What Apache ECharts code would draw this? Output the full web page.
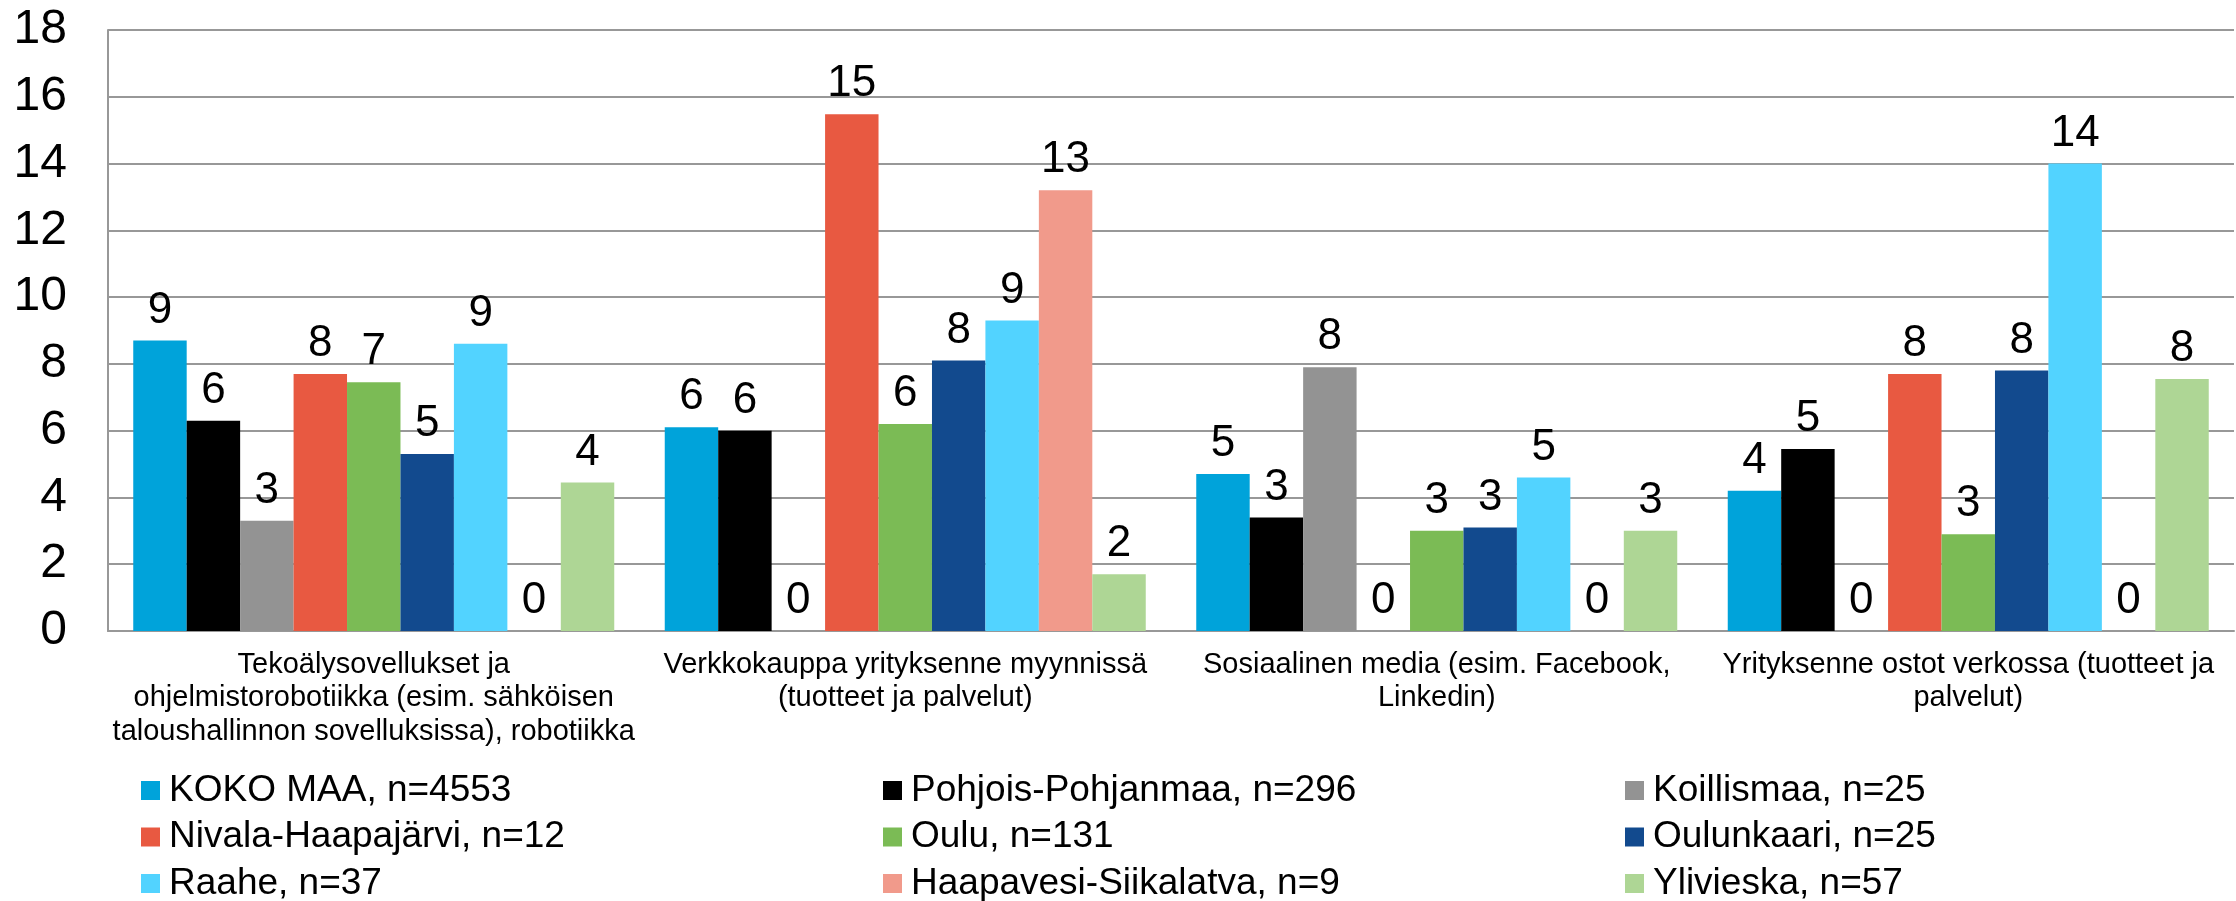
<!DOCTYPE html>
<html>
<head>
<meta charset="utf-8">
<script src="https://cdn.jsdelivr.net/npm/echarts@6/dist/echarts.min.js"></script>
<style>
  html, body { margin: 0; padding: 0; background: #fff; }
  #chart { width: 2236px; height: 901px; }
</style>
</head>
<body>
<div id="chart"></div>
<script>
// categories (x axis)
const categories = [
  "Tekoälysovellukset ja\nohjelmistorobotiikka (esim. sähköisen\ntaloushallinnon sovelluksissa), robotiikka",
  "Verkkokauppa yrityksenne myynnissä\n(tuotteet ja palvelut)",
  "Sosiaalinen media (esim. Facebook,\nLinkedin)",
  "Yrityksenne ostot verkossa (tuotteet ja\npalvelut)"
];

// one array per region, values per category
const kokoMaa = [8.7, 6.1, 4.7, 4.2];
const pohjoisPohjanmaa = [6.3, 6.0, 3.4, 5.45];
const koillismaa = [3.3, 0, 7.9, 0];
const nivalaHaapajarvi = [7.7, 15.48, 0, 7.7];
const oulu = [7.45, 6.2, 3.0, 2.9];
const oulunkaari = [5.3, 8.1, 3.1, 7.8];
const raahe = [8.6, 9.3, 4.6, 14.0];
const haapavesiSiikalatva = [0, 13.2, 0, 0];
const ylivieska = [4.45, 1.7, 3.0, 7.55];

const seriesNames = [
  "KOKO MAA, n=4553", "Pohjois-Pohjanmaa, n=296", "Koillismaa, n=25",
  "Nivala-Haapajärvi, n=12", "Oulu, n=131", "Oulunkaari, n=25",
  "Raahe, n=37", "Haapavesi-Siikalatva, n=9", "Ylivieska, n=57"
];
const seriesData = [kokoMaa, pohjoisPohjanmaa, koillismaa, nivalaHaapajarvi, oulu,
  oulunkaari, raahe, haapavesiSiikalatva, ylivieska];
const colors = ["#00A3DA", "#000000", "#939393", "#E85941", "#7BBB55",
  "#124A8E", "#52D3FF", "#F19A8B", "#AED695"];

// y axis ticks
const yMin = 0, yMax = 18, yStep = 2;

const font = "'Liberation Sans', Arial, sans-serif";
const gridColor = "#989898";

const chart = echarts.init(document.getElementById("chart"));

// legend is laid out as three columns, one legend per column
const legendCol = (left, names) => ({
  orient: "vertical",
  left: left,
  top: 772,
  height: 200,
  padding: 0,
  itemWidth: 19,
  itemHeight: 19,
  itemGap: 9.5,
  icon: "rect",
  data: names,
  selectedMode: false,
  textStyle: { fontSize: 37, fontFamily: font, color: "#000", padding: [0, 0, 0, 4], lineHeight: 37 }
});

const option = {
  color: colors,
  animation: false,
  grid: { left: 108, right: 2, top: 30, bottom: 270 },
  legend: [
    legendCol(141, [seriesNames[0], seriesNames[3], seriesNames[6]]),
    legendCol(883, [seriesNames[1], seriesNames[4], seriesNames[7]]),
    legendCol(1625, [seriesNames[2], seriesNames[5], seriesNames[8]])
  ],
  xAxis: {
    type: "category",
    data: categories,
    axisTick: { show: false },
    axisLine: { lineStyle: { color: gridColor, width: 2 } },
    axisLabel: {
      interval: 0,
      margin: 17,
      fontSize: 29,
      lineHeight: 33.5,
      color: "#000",
      fontFamily: font
    }
  },
  yAxis: {
    type: "value",
    min: yMin,
    max: yMax,
    interval: yStep,
    axisLine: { show: true, lineStyle: { color: gridColor, width: 2 } },
    axisTick: { show: false },
    splitLine: { lineStyle: { color: gridColor, width: 2 } },
    axisLabel: { fontSize: 48, color: "#000", fontFamily: font, margin: 41 }
  },
  series: seriesData.map((d, i) => ({
    name: seriesNames[i],
    type: "bar",
    data: d,
    barGap: "0%",
    barCategoryGap: "9.5%",
    label: {
      show: true,
      position: "top",
      distance: 8,
      fontSize: 44,
      color: "#000",
      fontFamily: font,
      formatter: (p) => Math.round(p.value)
    }
  }))
};

chart.setOption(option);
</script>
</body>
</html>
